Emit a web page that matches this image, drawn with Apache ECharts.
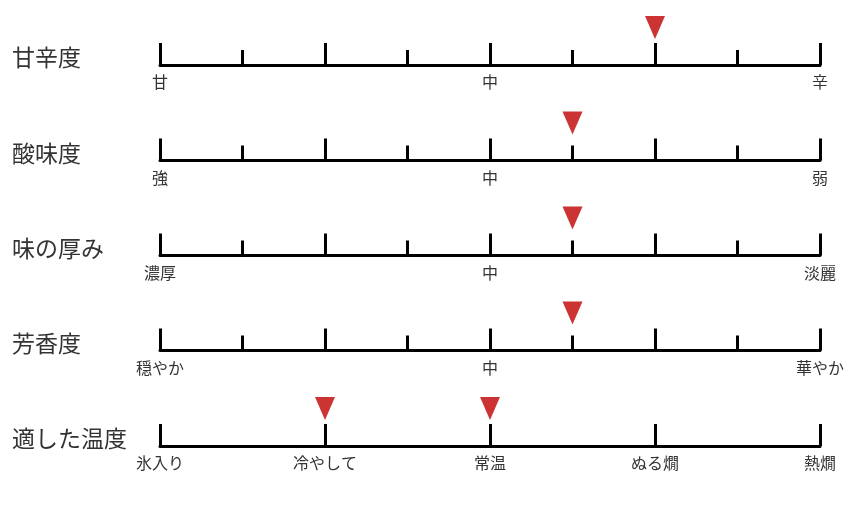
<!DOCTYPE html>
<html><head><meta charset="utf-8">
<script src="https://cdn.jsdelivr.net/npm/echarts@6/dist/echarts.min.js"></script>
<style>html,body{margin:0;padding:0;background:#fff}#c{width:850px;height:506px}</style>
</head><body><div id="c"></div>
<script>
const rowTitles = ['甘辛度', '酸味度', '味の厚み', '芳香度', '適した温度'];
const labels1 = ['甘', '中', '辛'];
const labels2 = ['強', '中', '弱'];
const labels3 = ['濃厚', '中', '淡麗'];
const labels4 = ['穏やか', '中', '華やか'];
const labels5 = ['氷入り', '冷やして', '常温', 'ぬる燗', '熱燗'];
const scaleLabels = [labels1, labels2, labels3, labels4, labels5];
const scaleMax = [8, 8, 8, 8, 4];
const markerValues = [[6], [5], [5], [5], [1, 2]];

const axisYs = [65, 160.5, 255.5, 350.5, 446];
const GH = 50;
const FONT = '"Noto Sans CJK JP", "Noto Sans", sans-serif';

const grids = [], xAxes = [], yAxes = [], series = [], graphics = [];
rowTitles.forEach((t, i) => {
  const ay = axisYs[i];
  grids.push({ left: 160, right: 30, top: ay - GH, height: GH });
  const max = scaleMax[i];
  const labs = scaleLabels[i];
  const fine = max === 8;
  xAxes.push({
    type: 'value', gridIndex: i, min: 0, max: max, interval: fine ? 2 : 1,
    position: 'bottom',
    axisLine: { show: true, lineStyle: { color: '#000', width: 3 } },
    axisTick: { show: true, inside: true, length: 22, lineStyle: { color: '#000', width: 3 } },
    minorTick: { show: fine, splitNumber: 2, length: 15, lineStyle: { color: '#000', width: 3 } },
    splitLine: { show: false },
    axisLabel: {
      show: true, margin: 9, color: '#333', fontSize: 16, fontFamily: FONT,
      showMinLabel: true, showMaxLabel: true, hideOverlap: false,
      formatter: function (v) {
        if (fine) { return v % 4 === 0 ? labs[v / 4] : ''; }
        return labs[v];
      }
    }
  });
  yAxes.push({ type: 'value', gridIndex: i, min: 0, max: 1, show: false });
  series.push({
    type: 'scatter', xAxisIndex: i, yAxisIndex: i,
    symbol: 'triangle', symbolRotate: 180, symbolSize: [20, 23],
    itemStyle: { color: '#cc3333', opacity: 1 },
    data: markerValues[i].map(v => [v, 0.75]),
    silent: true
  });
  graphics.push({
    type: 'text', x: 12, y: ay - 7.5,
    style: { text: t, fill: '#333', font: '23px ' + FONT, verticalAlign: 'middle', textVerticalAlign: 'middle' }
  });
});

const chart = echarts.init(document.getElementById('c'));
chart.setOption({
  animation: false,
  grid: grids, xAxis: xAxes, yAxis: yAxes, series: series,
  graphic: graphics
});
</script></body></html>
